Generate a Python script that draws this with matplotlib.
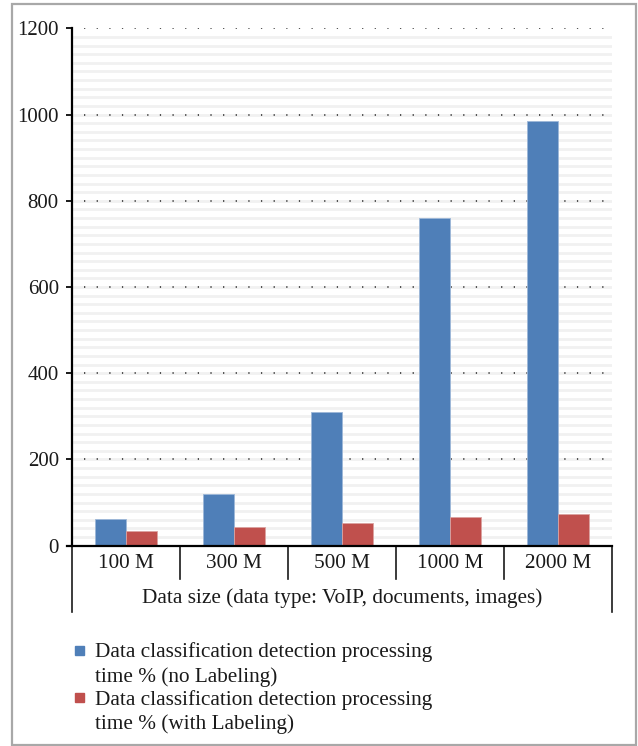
import numpy as np
import matplotlib.pyplot as plt
from matplotlib.patches import Rectangle
from matplotlib.transforms import blended_transform_factory

plt.rcParams['font.family'] = ['Liberation Serif', 'DejaVu Serif']

categories = ['100 M', '300 M', '500 M', '1000 M', '2000 M']
no_labeling = [61, 119, 310, 760, 986]
with_labeling = [33, 44, 52, 66, 74]
series_names = ['Data classification detection processing\ntime % (no Labeling)',
                'Data classification detection processing\ntime % (with Labeling)']
axis_title = 'Data size (data type: VoIP, documents, images)'

blue = '#4f7fb8'
red = '#c0504d'
ink = '#1a1a1a'

W, H = 638, 746
fig = plt.figure(figsize=(W / 100, H / 100), dpi=100)

# axes box in pixel units
left, right, top, zero = 72, 612, 28.3, 545.7
ax = fig.add_axes([left / W, (H - zero) / H, (right - left) / W, (zero - top) / H])

x = np.arange(len(categories))
bw = 0.287
ax.bar(x - bw / 2, no_labeling, bw, color=blue, edgecolor='#9db7d8', linewidth=0.6, zorder=3)
ax.bar(x + bw / 2, with_labeling, bw, color=red, edgecolor='#dba3a1', linewidth=0.6, zorder=3)

ax.set_xlim(-0.5, len(categories) - 0.5)
ax.set_ylim(0, 1200)

# light striped background and dotted major grid
for v in np.arange(20, 1200, 20):
    ax.axhline(v, color='#f1f1f1', lw=2.0, zorder=0)
for v in range(200, 1201, 200):
    ax.hlines(v, -0.39, 4.45, colors='#444444', linestyles=(0, (0.7, 6.3)), lw=1.3, zorder=1)

ax.set_yticks(range(0, 1201, 200))
ax.tick_params(axis='y', direction='out', length=4, width=1.4, pad=5.5, labelsize=15, colors=ink)
ax.set_xticks([])
for s in ['top', 'right']:
    ax.spines[s].set_visible(False)
ax.spines['left'].set_linewidth(1.6)
ax.spines['bottom'].set_linewidth(1.6)
ax.spines['bottom'].set_zorder(4)
ax.spines['left'].set_zorder(4)
ax.spines['bottom'].set_bounds(-0.55, 4.5)

# category table under the axis
trans = blended_transform_factory(ax.transData, ax.transAxes)
ph = zero - top
y_row = -(579 - zero) / ph
y_end = -(612 - zero) / ph
for i in range(1, len(categories)):
    ax.plot([i - 0.5, i - 0.5], [0, y_row], color=ink, lw=1.2, transform=trans, clip_on=False)
for xe in (-0.5, len(categories) - 0.5):
    ax.plot([xe, xe], [0, y_end], color=ink, lw=1.2, transform=trans, clip_on=False)
for i, c in enumerate(categories):
    ax.text(i, -(563 - zero) / ph, c, transform=trans, ha='center', va='center',
            fontsize=15.3, color=ink)
ax.text(2, -(598 - zero) / ph, axis_title, transform=trans, ha='center', va='center',
        fontsize=15.3, color=ink)

# legend
for (ys, col, name) in [(645.5, blue, series_names[0]), (693, red, series_names[1])]:
    fig.patches.append(Rectangle((75 / W, 1 - (ys + 9) / H), 9 / W, 9 / H,
                                 transform=fig.transFigure, color=col))
    fig.text(95 / W, 1 - (ys - 3) / H, name, ha='left', va='top', fontsize=15.3,
             color=ink, linespacing=1.3)

# outer frame
fig.patches.append(Rectangle((11.5 / W, 1 - 745 / H), 624.5 / W, 741 / H,
                             transform=fig.transFigure, fill=False, edgecolor='#a8a8a8', lw=1.6))

fig.savefig('out.png', dpi=100)
